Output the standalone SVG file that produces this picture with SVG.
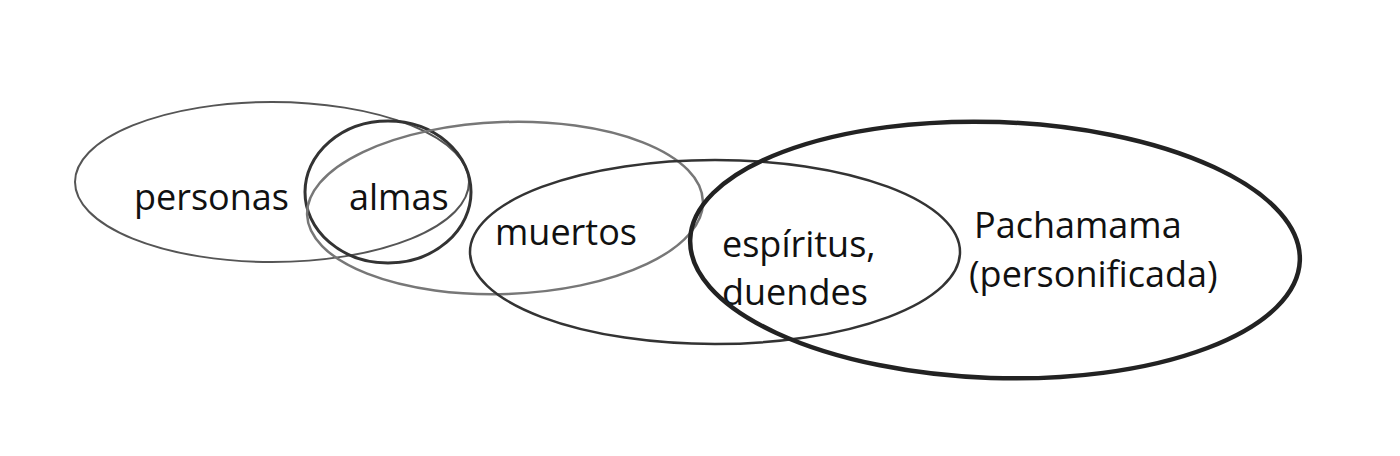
<svg xmlns="http://www.w3.org/2000/svg" width="1400" height="456" viewBox="0 0 1400 456">
<style>
text{font-family:"Open Sans","Liberation Sans",sans-serif;font-size:36px;fill:#111}
ellipse{fill:none}
</style>
<rect width="1400" height="456" fill="#fff"/>
<g id="connectors"></g>
<g id="personas"><ellipse cx="272" cy="182" rx="197" ry="80" stroke="#555" stroke-width="2"/><text x="134" y="210">personas</text></g>
<g id="almas"><ellipse cx="388" cy="192" rx="83" ry="71" stroke="#333" stroke-width="3"/><text x="349" y="210">almas</text></g>
<g id="muertos"><ellipse cx="505" cy="208" rx="198" ry="86" stroke="#777" stroke-width="2.5" transform="rotate(-2 505 208)"/><text x="495" y="245">muertos</text></g>
<g id="espiritus"><ellipse cx="715" cy="252" rx="245" ry="92" stroke="#333" stroke-width="2.5"/><text x="722" y="257">espíritus,</text><text x="722" y="305">duendes</text></g>
<g id="pachamama"><ellipse cx="995" cy="250" rx="305" ry="128" stroke="#222" stroke-width="4.5" transform="rotate(2 995 250)"/><text x="974" y="238">Pachamama</text><text x="969" y="287">(personificada)</text></g>
</svg>
